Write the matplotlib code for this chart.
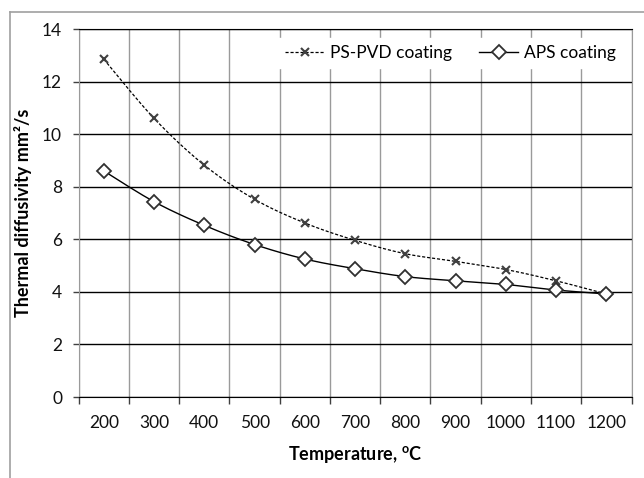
import numpy as np
import matplotlib.pyplot as plt
from matplotlib.lines import Line2D

plt.rcParams['font.family'] = ['Lato', 'DejaVu Sans']
plt.rcParams['mathtext.fontset'] = 'custom'
plt.rcParams['mathtext.rm'] = 'Lato'
plt.rcParams['mathtext.bf'] = 'Lato:bold'

temps = ['200', '300', '400', '500', '600', '700', '800', '900', '1000', '1100', '1200']
ps_pvd = [12.85, 10.6, 8.82, 7.52, 6.62, 5.96, 5.45, 5.16, 4.85, 4.42, 3.92]
aps = [8.6, 7.43, 6.53, 5.8, 5.25, 4.88, 4.58, 4.42, 4.28, 4.07, 3.92]


def smooth(x, y, n=25):
    pts = np.column_stack([x, y]).astype(float)
    ext = np.vstack([pts[0], pts, pts[-1]])
    t = np.linspace(0, 1, n)[:, None]
    out = []
    for i in range(1, len(ext) - 2):
        p0, p1, p2, p3 = ext[i - 1], ext[i], ext[i + 1], ext[i + 2]
        seg = 0.5 * ((2 * p1) + (-p0 + p2) * t + (2 * p0 - 5 * p1 + 4 * p2 - p3) * t ** 2
                     + (-p0 + 3 * p1 - 3 * p2 + p3) * t ** 3)
        out.append(seg if i == 1 else seg[1:])
    out = np.vstack(out)
    return out[:, 0], out[:, 1]


W, H = 644, 478
fig = plt.figure(figsize=(W / 100, H / 100), dpi=100)
ax = fig.add_axes([78.7 / W, 1 - 397 / H, (631.5 - 78.7) / W, (397 - 29) / H])

x = np.arange(len(temps))
sx, sy = smooth(x, ps_pvd)
ax.plot(sx, sy, color='black', lw=0.9, ls=(0, (2.5, 1.5)), zorder=3)
ax.plot(x, ps_pvd, ls='none', marker='x', ms=6, mew=1.5, color='#404040', zorder=4)
sx, sy = smooth(x, aps)
ax.plot(sx, sy, color='black', lw=1.0, zorder=3)
ax.plot(x, aps, ls='none', marker='D', ms=7.5, mew=1.3, mfc='white', mec='#303030', zorder=4)

ax.set_xlim(-0.5, len(temps) - 0.5)
ax.set_ylim(0, 14)
ax.set_yticks(np.arange(0, 15, 2))
ax.set_xticks(x)
ax.set_xticklabels(temps)
ax.set_xticks(np.arange(-0.5, len(temps), 1), minor=True)
ax.tick_params(axis='x', which='major', length=0, pad=13, labelsize=12.5, colors='#111111')
ax.tick_params(axis='x', which='minor', length=5, width=1, direction='out', color='#404040')
ax.tick_params(axis='y', which='major', length=4, width=1, direction='out', color='#404040',
               pad=8, labelsize=12.5, labelcolor='#111111')
ax.grid(which='minor', axis='x', color='#9a9a9a', lw=1)
ax.grid(which='major', axis='y', color='black', lw=1)
ax.grid(which='major', axis='x', visible=False)
ax.set_axisbelow(True)
for s in ['left', 'right']:
    ax.spines[s].set_color('#9a9a9a')
for s in ['top', 'bottom']:
    ax.spines[s].set_color('black')

ax.set_xlabel(r'Temperature, $^{\mathbf{o}}$C', fontweight='bold', fontsize=13, labelpad=9)
ax.set_ylabel('Thermal diffusivity mm²/s', fontweight='bold', fontsize=13, labelpad=7)

h1 = Line2D([], [], color='black', lw=0.9, ls=(0, (2.5, 1.5)), marker='x', ms=6, mew=1.5, mec='#404040')
h2 = Line2D([], [], color='black', lw=1.0, marker='D', ms=7.5, mew=1.3, mfc='white', mec='#303030')
leg = ax.legend([h1, h2], ['PS-PVD coating', 'APS coating'], ncol=2, loc='upper right',
                bbox_to_anchor=(0.99, 0.985), fontsize=12.5, frameon=True, fancybox=False,
                framealpha=1, facecolor='white', edgecolor='white', handlelength=2.3,
                handletextpad=0.3, columnspacing=1.5, borderaxespad=0.2)
leg.set_zorder(5)

fig.add_artist(Line2D([10 / W, 10 / W], [0, 1 - 12 / H], transform=fig.transFigure, color='#a0a0a0', lw=1.2))
fig.add_artist(Line2D([10 / W, 1], [1 - 12 / H, 1 - 12 / H], transform=fig.transFigure, color='#a0a0a0', lw=1.2))

fig.savefig('out.png', dpi=100)
